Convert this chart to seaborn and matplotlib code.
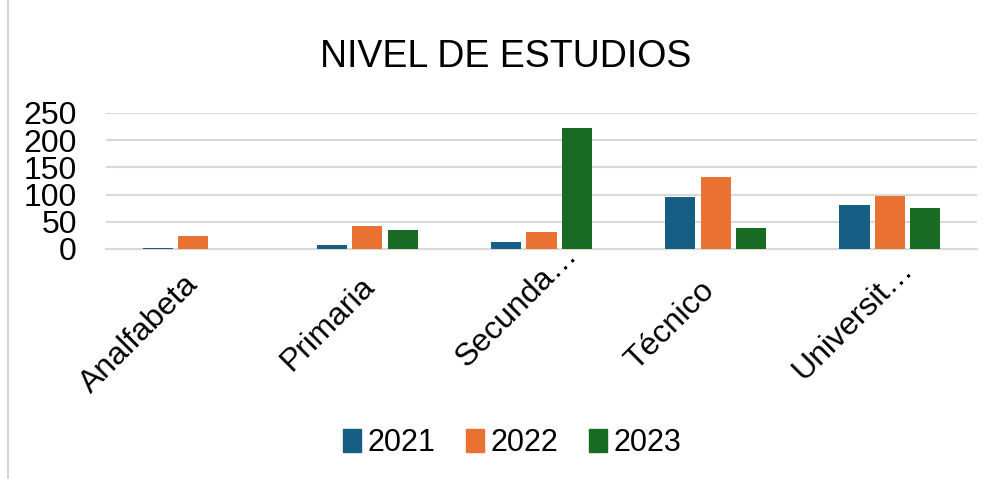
import matplotlib
matplotlib.use("Agg")
import matplotlib.pyplot as plt
import matplotlib.transforms as mtransforms
import seaborn as sns
import pandas as pd
from matplotlib.patches import Rectangle

categories = ["Analfabeta", "Primaria", "Secunda…", "Técnico", "Universit…"]
years = ["2021", "2022", "2023"]
v2021 = [2, 8, 12, 96, 80]
v2022 = [24, 43, 32, 132, 97]
v2023 = [0, 35, 223, 38, 75]
yticks = [0, 50, 100, 150, 200, 250]
colors = ["#175E84", "#E97132", "#196B24"]

# per-label pixel nudges (layout only)
label_nudge = [(-10, -12), (-8, -14), (21, 18), (-16, -18), (8, 3)]

rows = []
for yr, vals in zip(years, [v2021, v2022, v2023]):
    for c, v in zip(categories, vals):
        rows.append({"cat": c, "year": yr, "val": v})
df = pd.DataFrame(rows)

sns.set_theme(style="white")
plt.rcParams['font.family'] = ['Liberation Sans', 'DejaVu Sans']
plt.rcParams['text.color'] = 'black'
plt.rcParams['xtick.color'] = 'black'
plt.rcParams['ytick.color'] = 'black'

fig = plt.figure(figsize=(9.92, 4.79), dpi=100)
ax = fig.add_axes([106/992, 1-249/479, (977-106)/992, (249-113)/479])
sns.barplot(data=df, x="cat", y="val", hue="year", palette=colors, ax=ax,
            width=0.61, gap=0.15, edgecolor="none", saturation=1, legend=True)

ax.set_ylim(0, 250)
ax.set_xlim(-0.5, 4.5)
ax.set_yticks(yticks)
ax.set_yticklabels([str(t) for t in yticks], fontsize=23)
ax.yaxis.grid(True, color="#D9D9D9", linewidth=1.5)
ax.set_axisbelow(True)
for s in ["top", "right", "left"]:
    ax.spines[s].set_visible(False)
ax.spines["bottom"].set_color("#D9D9D9")
ax.spines["bottom"].set_linewidth(1.5)
ax.spines["bottom"].set_zorder(0.5)
ax.tick_params(axis="y", length=0, pad=21)
ax.tick_params(axis="x", length=0, pad=6)
ax.set_xlabel("")
ax.set_ylabel("")
ax.set_xticks(range(len(categories)))
ax.set_xticklabels(categories, fontsize=23, rotation=45, ha="right", rotation_mode="anchor")
for lab, (dx, dy) in zip(ax.get_xticklabels(), label_nudge):
    off = mtransforms.ScaledTranslation(dx/100, dy/100, fig.dpi_scale_trans)
    lab.set_transform(lab.get_transform() + off)

ax.legend_.remove()
handles = [Rectangle((0, 0), 1, 1, color=c) for c in colors]
fig.legend(handles, years, loc="center", bbox_to_anchor=(512/992, 1-443/479), ncol=3,
           frameon=False, fontsize=22, handlelength=0.6, handleheight=0.75,
           handletextpad=0.2, columnspacing=1.0)

fig.text(506/992, 1-57/479, "NIVEL DE ESTUDIOS", ha="center", va="center", fontsize=27)

fig.patches.append(Rectangle((8/992, -0.1), 1.2, 1.2, transform=fig.transFigure,
                             fill=False, edgecolor="#D9D9D9", linewidth=1.5))

fig.savefig("out.png", dpi=100, facecolor="white")
